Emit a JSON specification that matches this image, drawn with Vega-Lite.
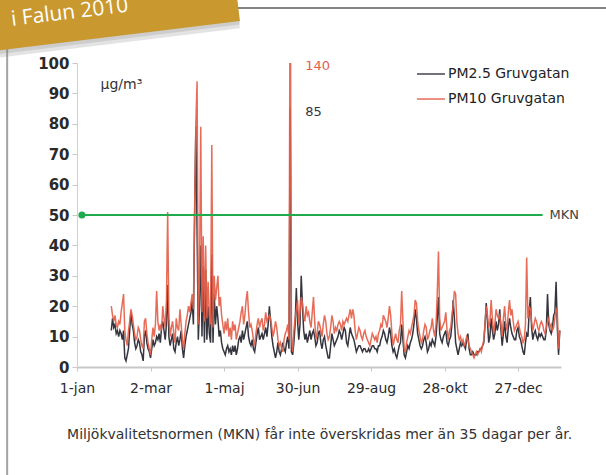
{
"$schema": "https://vega.github.io/schema/vega-lite/v6.json",
"width": 484,
"height": 304,
"autosize": {"type": "none"},
"padding": {"left": 77, "top": 63, "right": 45, "bottom": 108},
"background": "white",
"config": {
"view": {"stroke": null},
"font": "DejaVu Sans",
"axisY": {"tickCount": 12, "labelOverlap": false, "grid": false, "labelFont": "DejaVu Sans", "labelFontSize": 15, "labelFontWeight": "bold", "labelColor": "#2a2a2a", "labelPadding": 3, "domainColor": "#d0d0d0", "tickColor": "#c8c8c8", "tickSize": 5, "titleAngle": 0, "titleX": 23, "titleY": 21, "titleAlign": "left", "titleBaseline": "middle", "titleFont": "DejaVu Sans", "titleFontSize": 14, "titleFontWeight": "normal", "titleColor": "#333333"},
"axisX": {"labelFlush": false, "labelOverlap": false, "grid": false, "labelFont": "DejaVu Sans", "labelFontSize": 14, "labelColor": "#2a2a2a", "labelPadding": 10, "domainColor": "#c8c8c8", "domainWidth": 2, "tickColor": "#c8c8c8", "tickSize": 4}
},
"datasets": {
"pm": [
{"date":"2010-01-29","pm25":12,"pm10":20},{"date":"2010-01-30","pm25":16,"pm10":17},{"date":"2010-01-31","pm25":13,"pm10":15},
{"date":"2010-02-01","pm25":14,"pm10":17},{"date":"2010-02-02","pm25":11,"pm10":14},{"date":"2010-02-03","pm25":12,"pm10":13},{"date":"2010-02-04","pm25":10,"pm10":15},{"date":"2010-02-05","pm25":12,"pm10":14},{"date":"2010-02-06","pm25":11,"pm10":18},{"date":"2010-02-07","pm25":9,"pm10":21},{"date":"2010-02-08","pm25":12,"pm10":24},{"date":"2010-02-09","pm25":3,"pm10":12},{"date":"2010-02-10","pm25":2,"pm10":9},{"date":"2010-02-11","pm25":4,"pm10":7},{"date":"2010-02-12","pm25":6,"pm10":12},{"date":"2010-02-13","pm25":12,"pm10":15},{"date":"2010-02-14","pm25":18,"pm10":19},{"date":"2010-02-15","pm25":14,"pm10":17},{"date":"2010-02-16","pm25":12,"pm10":14},{"date":"2010-02-17","pm25":8,"pm10":11},{"date":"2010-02-18","pm25":6,"pm10":9},{"date":"2010-02-19","pm25":7,"pm10":10},{"date":"2010-02-20","pm25":9,"pm10":13},{"date":"2010-02-21","pm25":8,"pm10":12},{"date":"2010-02-22","pm25":5,"pm10":9},{"date":"2010-02-23","pm25":4,"pm10":7},{"date":"2010-02-24","pm25":2,"pm10":6},{"date":"2010-02-25","pm25":10,"pm10":15},{"date":"2010-02-26","pm25":12,"pm10":16},{"date":"2010-02-27","pm25":8,"pm10":11},{"date":"2010-02-28","pm25":6,"pm10":8},
{"date":"2010-03-01","pm25":5,"pm10":6},{"date":"2010-03-02","pm25":3,"pm10":4},{"date":"2010-03-03","pm25":6,"pm10":9},{"date":"2010-03-04","pm25":9,"pm10":13},{"date":"2010-03-05","pm25":7,"pm10":10},{"date":"2010-03-06","pm25":8,"pm10":14},{"date":"2010-03-07","pm25":10,"pm10":25},{"date":"2010-03-08","pm25":9,"pm10":15},{"date":"2010-03-09","pm25":11,"pm10":12},{"date":"2010-03-10","pm25":8,"pm10":14},{"date":"2010-03-11","pm25":13,"pm10":12},{"date":"2010-03-12","pm25":15,"pm10":20},{"date":"2010-03-13","pm25":12,"pm10":16},{"date":"2010-03-14","pm25":9,"pm10":13},{"date":"2010-03-15","pm25":14,"pm10":22},{"date":"2010-03-16","pm25":27,"pm10":51},{"date":"2010-03-17","pm25":10,"pm10":16},{"date":"2010-03-18","pm25":7,"pm10":10},{"date":"2010-03-19","pm25":9,"pm10":13},{"date":"2010-03-20","pm25":11,"pm10":15},{"date":"2010-03-21","pm25":6,"pm10":11},{"date":"2010-03-22","pm25":5,"pm10":8},{"date":"2010-03-23","pm25":8,"pm10":16},{"date":"2010-03-24","pm25":10,"pm10":13},{"date":"2010-03-25","pm25":7,"pm10":12},{"date":"2010-03-26","pm25":9,"pm10":19},{"date":"2010-03-27","pm25":12,"pm10":14},{"date":"2010-03-28","pm25":6,"pm10":9},{"date":"2010-03-29","pm25":3,"pm10":6},{"date":"2010-03-30","pm25":7,"pm10":11},{"date":"2010-03-31","pm25":10,"pm10":15},
{"date":"2010-04-01","pm25":12,"pm10":17},{"date":"2010-04-02","pm25":14,"pm10":20},{"date":"2010-04-03","pm25":16,"pm10":18},{"date":"2010-04-04","pm25":18,"pm10":21},{"date":"2010-04-05","pm25":22,"pm10":24},{"date":"2010-04-06","pm25":14,"pm10":19},{"date":"2010-04-07","pm25":50,"pm10":52},{"date":"2010-04-08","pm25":79,"pm10":80},{"date":"2010-04-09","pm25":45,"pm10":94},{"date":"2010-04-10","pm25":9,"pm10":14},{"date":"2010-04-11","pm25":20,"pm10":30},{"date":"2010-04-12","pm25":40,"pm10":79},{"date":"2010-04-13","pm25":10,"pm10":18},{"date":"2010-04-14","pm25":33,"pm10":43},{"date":"2010-04-15","pm25":8,"pm10":15},{"date":"2010-04-16","pm25":32,"pm10":40},{"date":"2010-04-17","pm25":9,"pm10":16},{"date":"2010-04-18","pm25":20,"pm10":28},{"date":"2010-04-19","pm25":11,"pm10":17},{"date":"2010-04-20","pm25":8,"pm10":14},{"date":"2010-04-21","pm25":37,"pm10":73},{"date":"2010-04-22","pm25":8,"pm10":13},{"date":"2010-04-23","pm25":24,"pm10":30},{"date":"2010-04-24","pm25":14,"pm10":22},{"date":"2010-04-25","pm25":20,"pm10":26},{"date":"2010-04-26","pm25":16,"pm10":30},{"date":"2010-04-27","pm25":10,"pm10":20},{"date":"2010-04-28","pm25":12,"pm10":23},{"date":"2010-04-29","pm25":8,"pm10":17},{"date":"2010-04-30","pm25":6,"pm10":14},
{"date":"2010-05-01","pm25":5,"pm10":11},{"date":"2010-05-02","pm25":4,"pm10":15},{"date":"2010-05-03","pm25":6,"pm10":12},{"date":"2010-05-04","pm25":7,"pm10":16},{"date":"2010-05-05","pm25":5,"pm10":10},{"date":"2010-05-06","pm25":6,"pm10":13},{"date":"2010-05-07","pm25":4,"pm10":9},{"date":"2010-05-08","pm25":7,"pm10":15},{"date":"2010-05-09","pm25":5,"pm10":12},{"date":"2010-05-10","pm25":7,"pm10":14},{"date":"2010-05-11","pm25":4,"pm10":9},{"date":"2010-05-12","pm25":6,"pm10":11},{"date":"2010-05-13","pm25":9,"pm10":13},{"date":"2010-05-14","pm25":10,"pm10":15},{"date":"2010-05-15","pm25":8,"pm10":18},{"date":"2010-05-16","pm25":12,"pm10":20},{"date":"2010-05-17","pm25":9,"pm10":14},{"date":"2010-05-18","pm25":11,"pm10":17},{"date":"2010-05-19","pm25":13,"pm10":22},{"date":"2010-05-20","pm25":15,"pm10":25},{"date":"2010-05-21","pm25":10,"pm10":18},{"date":"2010-05-22","pm25":8,"pm10":13},{"date":"2010-05-23","pm25":7,"pm10":14},{"date":"2010-05-24","pm25":9,"pm10":12},{"date":"2010-05-25","pm25":6,"pm10":9},{"date":"2010-05-26","pm25":5,"pm10":7},{"date":"2010-05-27","pm25":8,"pm10":11},{"date":"2010-05-28","pm25":11,"pm10":14},{"date":"2010-05-29","pm25":13,"pm10":16},{"date":"2010-05-30","pm25":9,"pm10":13},{"date":"2010-05-31","pm25":10,"pm10":15},
{"date":"2010-06-01","pm25":11,"pm10":16},{"date":"2010-06-02","pm25":9,"pm10":12},{"date":"2010-06-03","pm25":11,"pm10":14},{"date":"2010-06-04","pm25":13,"pm10":18},{"date":"2010-06-05","pm25":10,"pm10":15},{"date":"2010-06-06","pm25":14,"pm10":16},{"date":"2010-06-07","pm25":20,"pm10":17},{"date":"2010-06-08","pm25":15,"pm10":16},{"date":"2010-06-09","pm25":10,"pm10":13},{"date":"2010-06-10","pm25":7,"pm10":10},{"date":"2010-06-11","pm25":5,"pm10":12},{"date":"2010-06-12","pm25":3,"pm10":15},{"date":"2010-06-13","pm25":5,"pm10":13},{"date":"2010-06-14","pm25":8,"pm10":9},{"date":"2010-06-15","pm25":5,"pm10":7},{"date":"2010-06-16","pm25":4,"pm10":8},{"date":"2010-06-17","pm25":6,"pm10":6},{"date":"2010-06-18","pm25":8,"pm10":5},{"date":"2010-06-19","pm25":6,"pm10":9},{"date":"2010-06-20","pm25":5,"pm10":11},{"date":"2010-06-21","pm25":8,"pm10":12},{"date":"2010-06-22","pm25":10,"pm10":14},{"date":"2010-06-23","pm25":6,"pm10":9},{"date":"2010-06-24","pm25":85,"pm10":140},{"date":"2010-06-25","pm25":5,"pm10":10},{"date":"2010-06-26","pm25":4,"pm10":5},{"date":"2010-06-27","pm25":8,"pm10":12},{"date":"2010-06-28","pm25":14,"pm10":16},{"date":"2010-06-29","pm25":26,"pm10":19},{"date":"2010-06-30","pm25":15,"pm10":22},
{"date":"2010-07-01","pm25":9,"pm10":14},{"date":"2010-07-02","pm25":14,"pm10":18},{"date":"2010-07-03","pm25":30,"pm10":23},{"date":"2010-07-04","pm25":20,"pm10":21},{"date":"2010-07-05","pm25":12,"pm10":17},{"date":"2010-07-06","pm25":9,"pm10":15},{"date":"2010-07-07","pm25":11,"pm10":20},{"date":"2010-07-08","pm25":8,"pm10":17},{"date":"2010-07-09","pm25":10,"pm10":18},{"date":"2010-07-10","pm25":12,"pm10":15},{"date":"2010-07-11","pm25":9,"pm10":13},{"date":"2010-07-12","pm25":11,"pm10":18},{"date":"2010-07-13","pm25":12,"pm10":23},{"date":"2010-07-14","pm25":10,"pm10":15},{"date":"2010-07-15","pm25":7,"pm10":9},{"date":"2010-07-16","pm25":8,"pm10":11},{"date":"2010-07-17","pm25":11,"pm10":15},{"date":"2010-07-18","pm25":12,"pm10":14},{"date":"2010-07-19","pm25":8,"pm10":12},{"date":"2010-07-20","pm25":6,"pm10":10},{"date":"2010-07-21","pm25":9,"pm10":14},{"date":"2010-07-22","pm25":10,"pm10":17},{"date":"2010-07-23","pm25":7,"pm10":15},{"date":"2010-07-24","pm25":5,"pm10":11},{"date":"2010-07-25","pm25":3,"pm10":9},{"date":"2010-07-26","pm25":3,"pm10":10},{"date":"2010-07-27","pm25":7,"pm10":13},{"date":"2010-07-28","pm25":11,"pm10":17},{"date":"2010-07-29","pm25":9,"pm10":15},{"date":"2010-07-30","pm25":7,"pm10":11},{"date":"2010-07-31","pm25":8,"pm10":13},
{"date":"2010-08-01","pm25":9,"pm10":12},{"date":"2010-08-02","pm25":10,"pm10":14},{"date":"2010-08-03","pm25":12,"pm10":15},{"date":"2010-08-04","pm25":11,"pm10":14},{"date":"2010-08-05","pm25":9,"pm10":12},{"date":"2010-08-06","pm25":11,"pm10":15},{"date":"2010-08-07","pm25":13,"pm10":14},{"date":"2010-08-08","pm25":12,"pm10":15},{"date":"2010-08-09","pm25":8,"pm10":16},{"date":"2010-08-10","pm25":7,"pm10":15},{"date":"2010-08-11","pm25":10,"pm10":17},{"date":"2010-08-12","pm25":13,"pm10":19},{"date":"2010-08-13","pm25":11,"pm10":16},{"date":"2010-08-14","pm25":10,"pm10":19},{"date":"2010-08-15","pm25":9,"pm10":17},{"date":"2010-08-16","pm25":7,"pm10":12},{"date":"2010-08-17","pm25":5,"pm10":9},{"date":"2010-08-18","pm25":6,"pm10":11},{"date":"2010-08-19","pm25":7,"pm10":13},{"date":"2010-08-20","pm25":7,"pm10":12},{"date":"2010-08-21","pm25":6,"pm10":10},{"date":"2010-08-22","pm25":5,"pm10":9},{"date":"2010-08-23","pm25":6,"pm10":11},{"date":"2010-08-24","pm25":6,"pm10":12},{"date":"2010-08-25","pm25":5,"pm10":10},{"date":"2010-08-26","pm25":5,"pm10":9},{"date":"2010-08-27","pm25":6,"pm10":8},{"date":"2010-08-28","pm25":5,"pm10":7},{"date":"2010-08-29","pm25":6,"pm10":9},{"date":"2010-08-30","pm25":7,"pm10":11},{"date":"2010-08-31","pm25":7,"pm10":10},
{"date":"2010-09-01","pm25":6,"pm10":9},{"date":"2010-09-02","pm25":6,"pm10":10},{"date":"2010-09-03","pm25":5,"pm10":8},{"date":"2010-09-04","pm25":7,"pm10":11},{"date":"2010-09-05","pm25":7,"pm10":12},{"date":"2010-09-06","pm25":9,"pm10":14},{"date":"2010-09-07","pm25":10,"pm10":13},{"date":"2010-09-08","pm25":12,"pm10":17},{"date":"2010-09-09","pm25":11,"pm10":16},{"date":"2010-09-10","pm25":9,"pm10":15},{"date":"2010-09-11","pm25":8,"pm10":13},{"date":"2010-09-12","pm25":10,"pm10":16},{"date":"2010-09-13","pm25":13,"pm10":20},{"date":"2010-09-14","pm25":11,"pm10":17},{"date":"2010-09-15","pm25":7,"pm10":11},{"date":"2010-09-16","pm25":5,"pm10":7},{"date":"2010-09-17","pm25":6,"pm10":9},{"date":"2010-09-18","pm25":4,"pm10":11},{"date":"2010-09-19","pm25":3,"pm10":9},{"date":"2010-09-20","pm25":5,"pm10":8},{"date":"2010-09-21","pm25":7,"pm10":12},{"date":"2010-09-22","pm25":8,"pm10":14},{"date":"2010-09-23","pm25":14,"pm10":25},{"date":"2010-09-24","pm25":9,"pm10":15},{"date":"2010-09-25","pm25":4,"pm10":6},{"date":"2010-09-26","pm25":3,"pm10":5},{"date":"2010-09-27","pm25":5,"pm10":8},{"date":"2010-09-28","pm25":7,"pm10":10},{"date":"2010-09-29","pm25":6,"pm10":12},{"date":"2010-09-30","pm25":8,"pm10":11},
{"date":"2010-10-01","pm25":9,"pm10":13},{"date":"2010-10-02","pm25":11,"pm10":15},{"date":"2010-10-03","pm25":14,"pm10":17},{"date":"2010-10-04","pm25":19,"pm10":22},{"date":"2010-10-05","pm25":16,"pm10":21},{"date":"2010-10-06","pm25":11,"pm10":15},{"date":"2010-10-07","pm25":9,"pm10":12},{"date":"2010-10-08","pm25":7,"pm10":10},{"date":"2010-10-09","pm25":6,"pm10":8},{"date":"2010-10-10","pm25":7,"pm10":9},{"date":"2010-10-11","pm25":9,"pm10":12},{"date":"2010-10-12","pm25":10,"pm10":14},{"date":"2010-10-13","pm25":8,"pm10":13},{"date":"2010-10-14","pm25":5,"pm10":9},{"date":"2010-10-15","pm25":6,"pm10":10},{"date":"2010-10-16","pm25":8,"pm10":12},{"date":"2010-10-17","pm25":7,"pm10":13},{"date":"2010-10-18","pm25":9,"pm10":16},{"date":"2010-10-19","pm25":8,"pm10":12},{"date":"2010-10-20","pm25":7,"pm10":10},{"date":"2010-10-21","pm25":10,"pm10":14},{"date":"2010-10-22","pm25":16,"pm10":24},{"date":"2010-10-23","pm25":23,"pm10":38},{"date":"2010-10-24","pm25":11,"pm10":16},{"date":"2010-10-25","pm25":9,"pm10":12},{"date":"2010-10-26","pm25":8,"pm10":13},{"date":"2010-10-27","pm25":10,"pm10":14},{"date":"2010-10-28","pm25":11,"pm10":15},{"date":"2010-10-29","pm25":12,"pm10":18},{"date":"2010-10-30","pm25":8,"pm10":12},{"date":"2010-10-31","pm25":7,"pm10":9},
{"date":"2010-11-01","pm25":9,"pm10":12},{"date":"2010-11-02","pm25":10,"pm10":13},{"date":"2010-11-03","pm25":14,"pm10":17},{"date":"2010-11-04","pm25":22,"pm10":20},{"date":"2010-11-05","pm25":16,"pm10":25},{"date":"2010-11-06","pm25":8,"pm10":24},{"date":"2010-11-07","pm25":6,"pm10":15},{"date":"2010-11-08","pm25":4,"pm10":11},{"date":"2010-11-09","pm25":6,"pm10":9},{"date":"2010-11-10","pm25":8,"pm10":10},{"date":"2010-11-11","pm25":7,"pm10":8},{"date":"2010-11-12","pm25":8,"pm10":9},{"date":"2010-11-13","pm25":7,"pm10":7},{"date":"2010-11-14","pm25":6,"pm10":8},{"date":"2010-11-15","pm25":9,"pm10":10},{"date":"2010-11-16","pm25":11,"pm10":9},{"date":"2010-11-17","pm25":6,"pm10":7},{"date":"2010-11-18","pm25":4,"pm10":6},{"date":"2010-11-19","pm25":4,"pm10":5},{"date":"2010-11-20","pm25":5,"pm10":4},{"date":"2010-11-21","pm25":4,"pm10":3},{"date":"2010-11-22","pm25":4,"pm10":4},{"date":"2010-11-23","pm25":4,"pm10":5},{"date":"2010-11-24","pm25":5,"pm10":4},{"date":"2010-11-25","pm25":5,"pm10":5},{"date":"2010-11-26","pm25":6,"pm10":6},{"date":"2010-11-27","pm25":6,"pm10":5},{"date":"2010-11-28","pm25":7,"pm10":7},{"date":"2010-11-29","pm25":8,"pm10":9},{"date":"2010-11-30","pm25":14,"pm10":14},
{"date":"2010-12-01","pm25":21,"pm10":20},{"date":"2010-12-02","pm25":15,"pm10":17},{"date":"2010-12-03","pm25":8,"pm10":13},{"date":"2010-12-04","pm25":10,"pm10":15},{"date":"2010-12-05","pm25":16,"pm10":22},{"date":"2010-12-06","pm25":12,"pm10":16},{"date":"2010-12-07","pm25":9,"pm10":11},{"date":"2010-12-08","pm25":11,"pm10":14},{"date":"2010-12-09","pm25":15,"pm10":19},{"date":"2010-12-10","pm25":12,"pm10":17},{"date":"2010-12-11","pm25":14,"pm10":16},{"date":"2010-12-12","pm25":19,"pm10":17},{"date":"2010-12-13","pm25":12,"pm10":14},{"date":"2010-12-14","pm25":7,"pm10":10},{"date":"2010-12-15","pm25":11,"pm10":16},{"date":"2010-12-16","pm25":15,"pm10":20},{"date":"2010-12-17","pm25":10,"pm10":14},{"date":"2010-12-18","pm25":8,"pm10":12},{"date":"2010-12-19","pm25":13,"pm10":18},{"date":"2010-12-20","pm25":16,"pm10":22},{"date":"2010-12-21","pm25":13,"pm10":17},{"date":"2010-12-22","pm25":11,"pm10":19},{"date":"2010-12-23","pm25":10,"pm10":15},{"date":"2010-12-24","pm25":9,"pm10":12},{"date":"2010-12-25","pm25":9,"pm10":13},{"date":"2010-12-26","pm25":12,"pm10":14},{"date":"2010-12-27","pm25":13,"pm10":15},{"date":"2010-12-28","pm25":10,"pm10":13},{"date":"2010-12-29","pm25":9,"pm10":11},{"date":"2010-12-30","pm25":7,"pm10":10},{"date":"2010-12-31","pm25":5,"pm10":8},
{"date":"2011-01-01","pm25":4,"pm10":9},{"date":"2011-01-02","pm25":8,"pm10":14},{"date":"2011-01-03","pm25":11,"pm10":36},{"date":"2011-01-04","pm25":10,"pm10":16},{"date":"2011-01-05","pm25":18,"pm10":20},{"date":"2011-01-06","pm25":23,"pm10":19},{"date":"2011-01-07","pm25":13,"pm10":15},{"date":"2011-01-08","pm25":9,"pm10":12},{"date":"2011-01-09","pm25":11,"pm10":14},{"date":"2011-01-10","pm25":12,"pm10":16},{"date":"2011-01-11","pm25":10,"pm10":15},{"date":"2011-01-12","pm25":9,"pm10":13},{"date":"2011-01-13","pm25":11,"pm10":12},{"date":"2011-01-14","pm25":10,"pm10":14},{"date":"2011-01-15","pm25":11,"pm10":15},{"date":"2011-01-16","pm25":10,"pm10":14},{"date":"2011-01-17","pm25":9,"pm10":12},{"date":"2011-01-18","pm25":9,"pm10":11},{"date":"2011-01-19","pm25":12,"pm10":13},{"date":"2011-01-20","pm25":24,"pm10":15},{"date":"2011-01-21","pm25":14,"pm10":16},{"date":"2011-01-22","pm25":12,"pm10":13},{"date":"2011-01-23","pm25":11,"pm10":14},{"date":"2011-01-24","pm25":13,"pm10":12},{"date":"2011-01-25","pm25":17,"pm10":13},{"date":"2011-01-26","pm25":18,"pm10":16},{"date":"2011-01-27","pm25":28,"pm10":19},{"date":"2011-01-28","pm25":13,"pm10":18},{"date":"2011-01-29","pm25":4,"pm10":6},{"date":"2011-01-30","pm25":12,"pm10":12}
],
"mkn": [{"from":"2010-01-05","to":"2011-01-16","threshold":50,"label":"MKN"}],
"notes": [
{"date":"2010-06-24","value":140,"series":"PM10 Gruvgatan","label":"140"},
{"date":"2010-06-24","value":85,"series":"PM2.5 Gruvgatan","label":"85"}
],
"texts": [
{"banner":"i Falun 2010","caption":"Miljökvalitetsnormen (MKN) får inte överskridas mer än 35 dagar per år."}
]
},
"layer": [
{
"data": {"name": "pm"},
"mark": {"type": "line", "clip": true, "strokeWidth": 1.5},
"encoding": {
"x": {"field": "date", "type": "temporal", "title": null,
"scale": {"type": "utc", "nice": false, "domain": [{"year": 2010, "month": 1, "date": 1, "utc": true}, {"year": 2011, "month": 1, "date": 31, "utc": true}]},
"axis": {"tickCount": 20, "values": [{"year": 2010, "month": 1, "date": 1, "utc": true}, {"year": 2010, "month": 3, "date": 2, "utc": true}, {"year": 2010, "month": 5, "date": 1, "utc": true}, {"year": 2010, "month": 6, "date": 30, "utc": true}, {"year": 2010, "month": 8, "date": 29, "utc": true}, {"year": 2010, "month": 10, "date": 28, "utc": true}, {"year": 2010, "month": 12, "date": 27, "utc": true}],
"labelExpr": "utcdate(datum.value) + '-' + ['jan','feb','mar','apr','maj','jun','jul','aug','sep','okt','nov','dec'][utcmonth(datum.value)]"}},
"y": {"field": "pm25", "type": "quantitative", "title": "µg/m³",
"scale": {"domain": [0, 100], "nice": false},
"axis": {"values": [0, 10, 20, 30, 40, 50, 60, 70, 80, 90, 100], "tickCount": 12}},
"color": {"datum": "PM2.5 Gruvgatan",
"scale": {"domain": ["PM2.5 Gruvgatan", "PM10 Gruvgatan"], "range": ["#35353f", "#e4604a"]},
"legend": {"orient": "none", "legendX": 339, "legendY": -4, "title": null, "symbolType": "stroke", "symbolSize": 784, "symbolStrokeWidth": 1.5, "labelFont": "DejaVu Sans", "labelFontSize": 14, "labelColor": "#222222", "labelOffset": 2, "rowPadding": 3, "padding": 0}}
}
},
{
"data": {"name": "pm"},
"mark": {"type": "line", "clip": true, "strokeWidth": 1.5, "opacity": 0.92},
"encoding": {
"x": {"field": "date", "type": "temporal", "title": null},
"y": {"field": "pm10", "type": "quantitative", "title": "µg/m³", "axis": {"values": [0, 10, 20, 30, 40, 50, 60, 70, 80, 90, 100], "tickCount": 12}},
"color": {"datum": "PM10 Gruvgatan"}
}
},
{
"data": {"values": [{}]},
"mark": {"type": "rule", "color": "#a3a3a3", "strokeWidth": 2, "clip": false},
"encoding": {
"x": {"datum": {"year": 2009, "month": 11, "date": 5, "utc": true}, "type": "temporal", "title": null},
"y": {"datum": 110, "type": "quantitative", "title": "µg/m³"},
"y2": {"datum": -37}
}
},
{
"data": {"values": [{}]},
"mark": {"type": "rule", "color": "#5a5a5a", "strokeWidth": 1.5, "clip": false},
"encoding": {
"x": {"datum": {"year": 2010, "month": 5, "date": 1, "utc": true}, "type": "temporal", "title": null},
"x2": {"datum": {"year": 2011, "month": 3, "date": 17, "utc": true}},
"y": {"datum": 118.1, "type": "quantitative", "title": "µg/m³"}
}
},
{
"data": {"values": [{}]},
"mark": {"type": "rule", "color": "#808080", "opacity": 0.22, "strokeWidth": 80, "strokeCap": "butt", "clip": false},
"encoding": {
"x": {"datum": {"year": 2009, "month": 9, "date": 23, "utc": true}, "type": "temporal", "title": null},
"x2": {"datum": {"year": 2010, "month": 5, "date": 10, "utc": true}},
"y": {"datum": 113.2, "type": "quantitative", "title": "µg/m³"},
"y2": {"datum": 124.5}
}
},
{
"data": {"values": [{}]},
"mark": {"type": "rule", "color": "#808080", "opacity": 0.22, "strokeWidth": 80, "strokeCap": "butt", "clip": false},
"encoding": {
"x": {"datum": {"year": 2009, "month": 9, "date": 23, "utc": true}, "type": "temporal", "title": null},
"x2": {"datum": {"year": 2010, "month": 5, "date": 10, "utc": true}},
"y": {"datum": 114.4, "type": "quantitative", "title": "µg/m³"},
"y2": {"datum": 125.7}
}
},
{
"data": {"values": [{}]},
"mark": {"type": "rule", "color": "#c9982f", "strokeWidth": 80, "strokeCap": "butt", "clip": false},
"encoding": {
"x": {"datum": {"year": 2009, "month": 9, "date": 23, "utc": true}, "type": "temporal", "title": null},
"x2": {"datum": {"year": 2010, "month": 5, "date": 10, "utc": true}},
"y": {"datum": 115.6, "type": "quantitative", "title": "µg/m³"},
"y2": {"datum": 126.9}
}
},
{
"data": {"name": "texts"},
"mark": {"type": "text", "color": "white", "font": "Open Sans", "fontSize": 21, "angle": -7, "align": "left", "baseline": "alphabetic", "clip": false},
"encoding": {
"x": {"datum": {"year": 2009, "month": 11, "date": 9, "utc": true}, "type": "temporal", "title": null},
"y": {"datum": 112.2, "type": "quantitative", "title": "µg/m³"},
"text": {"field": "banner"}
}
},
{
"data": {"name": "texts"},
"mark": {"type": "text", "color": "#333333", "font": "DejaVu Sans", "fontSize": 14, "align": "center", "baseline": "middle", "clip": false},
"encoding": {
"x": {"datum": {"year": 2010, "month": 7, "date": 18, "utc": true}, "type": "temporal", "title": null},
"y": {"datum": -22.5, "type": "quantitative", "title": "µg/m³"},
"text": {"field": "caption"}
}
},
{
"data": {"name": "mkn"},
"mark": {"type": "rule", "color": "#1faa4b", "strokeWidth": 2},
"encoding": {
"x": {"field": "from", "type": "temporal", "title": null},
"x2": {"field": "to"},
"y": {"field": "threshold", "type": "quantitative", "title": "µg/m³"}
}
},
{
"data": {"name": "mkn"},
"mark": {"type": "point", "filled": true, "opacity": 1, "color": "#1faa4b", "size": 50},
"encoding": {
"x": {"field": "from", "type": "temporal", "title": null},
"y": {"field": "threshold", "type": "quantitative", "title": "µg/m³"}
}
},
{
"data": {"name": "mkn"},
"mark": {"type": "text", "align": "left", "baseline": "middle", "dx": 7, "font": "DejaVu Sans", "fontSize": 13, "color": "#444444", "clip": false},
"encoding": {
"x": {"field": "to", "type": "temporal", "title": null},
"y": {"field": "threshold", "type": "quantitative", "title": "µg/m³"},
"text": {"field": "label"}
}
},
{
"data": {"name": "notes"},
"transform": [{"calculate": "min(datum.value, 100)", "as": "labelpos"}],
"mark": {"type": "text", "align": "left", "baseline": "middle", "dx": 15, "dy": 3, "font": "DejaVu Sans", "fontSize": 13, "clip": false},
"encoding": {
"x": {"field": "date", "type": "temporal", "title": null},
"y": {"field": "labelpos", "type": "quantitative", "title": "µg/m³"},
"text": {"field": "label"},
"color": {"field": "series", "type": "nominal", "legend": null}
}
}
]
}
